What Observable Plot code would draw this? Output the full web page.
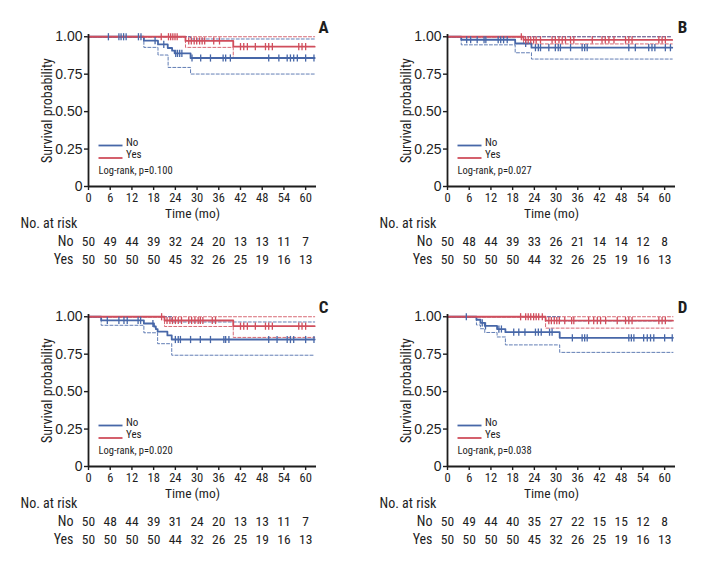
<!DOCTYPE html>
<html><head><meta charset="utf-8">
<script src="https://cdn.jsdelivr.net/npm/d3@7"></script>
<script src="https://cdn.jsdelivr.net/npm/@observablehq/plot@0.6"></script>
<style>
body{margin:0;background:#fff;}
#fig{position:relative;width:702px;height:562px;overflow:hidden;background:#fff;}
#fig svg{position:absolute;}
</style></head><body><div id="fig"></div>
<script>
// ---------- shared ----------
const timeTicks = [0, 6, 12, 18, 24, 30, 36, 42, 48, 54, 60];
const survTicks = [0, 0.25, 0.5, 0.75, 1];
const groups = ["No", "Yes"];
const panelLetters = ["A", "B", "C", "D"];
const pValues = ["0.100", "0.027", "0.020", "0.038"];

// ---------- Panel A ----------
const A_noCurve = [[0,1],[15.3,.974],[19.2,.949],[21.9,.925],[23.1,.907],[23.8,.889],[28.2,.858],[62.5,.858]];
const A_noLo = [[0,1],[15.3,.929],[19.2,.878],[22.0,.795],[28.2,.751],[62.5,.751]];
const A_noHi = [[0,1],[28.2,.985],[62.5,.985]];
const A_yesCurve = [[0,1],[26.8,.972],[40.0,.934],[62.5,.934]];
const A_yesLo = [[0,1],[26.8,.929],[40.0,.856],[62.5,.856]];
const A_yesHi = [[0,1],[62.5,1]];
const A_noCens = [5.5, 8.4, 9.0, 9.7, 10.4, 13.8, 14.5, 18.4, 20.8, 24.1, 24.6, 25.2, 25.8, 28.6, 31.0, 33.7, 37.2, 37.9, 39.2, 49.8, 52.6, 54.9, 55.8, 56.7, 57.7, 60.0, 62.3];
const A_yesCens = [20.1, 22.1, 22.7, 23.3, 23.9, 24.5, 27.7, 28.4, 29.2, 29.9, 30.7, 31.4, 32.1, 34.6, 36.2, 42.0, 42.9, 43.9, 46.1, 48.9, 49.8, 50.8, 58.1, 59.0, 60.0];
const A_noRisk = [50, 49, 44, 39, 32, 24, 20, 13, 13, 11, 7];
const A_yesRisk = [50, 50, 50, 50, 45, 32, 26, 25, 19, 16, 13];

// ---------- Panel B ----------
const B_noCurve = [[0,1],[3.8,.98],[18.7,.955],[23.2,.927],[62.1,.927]];
const B_noLo = [[0,1],[3.8,.946],[18.7,.893],[23.2,.851],[62.1,.851]];
const B_noHi = [[0,1],[62.1,1]];
const B_yesCurve = [[0,1],[21.0,.979],[62.1,.979]];
const B_yesLo = [[0,1],[21.0,.952],[62.1,.952]];
const B_yesHi = [[0,1],[62.1,1]];
const B_noCens = [5.3, 6.4, 8.2, 10.1, 10.6, 14.0, 14.7, 15.5, 16.5, 21.6, 24.3, 25.1, 25.7, 28.0, 29.8, 30.6, 31.2, 34.0, 37.2, 37.9, 38.6, 50.1, 51.9, 55.6, 56.5, 57.3, 60.2, 61.6];
const B_yesCens = [20.4, 21.6, 22.3, 23.0, 23.8, 24.5, 25.7, 28.9, 29.8, 30.8, 31.7, 32.6, 34.0, 34.9, 40.0, 42.7, 43.6, 44.6, 46.0, 49.2, 50.1, 51.0, 58.4, 59.3, 60.2];
const B_noRisk = [50, 48, 44, 39, 33, 26, 21, 14, 14, 12, 8];
const B_yesRisk = [50, 50, 50, 50, 44, 32, 26, 25, 19, 16, 13];

// ---------- Panel C ----------
const C_noCurve = [[0,1],[3.5,.976],[15.3,.955],[18.1,.935],[18.6,.918],[19.1,.9],[21.8,.875],[23.0,.848],[62.5,.848]];
const C_noLo = [[0,1],[3.5,.943],[15.3,.893],[19.1,.82],[23.0,.743],[62.5,.743]];
const C_noHi = [[0,1],[23.0,.965],[62.5,.965]];
const C_yesCurve = [[0,1],[21.0,.975],[40.0,.937],[62.5,.937]];
const C_yesLo = [[0,1],[21.0,.935],[40.0,.862],[62.5,.862]];
const C_yesHi = [[0,1],[62.5,1]];
const C_noCens = [5.2, 8.4, 9.8, 10.7, 13.7, 14.4, 17.8, 24.0, 24.8, 25.4, 28.2, 30.9, 33.7, 37.4, 37.9, 38.8, 49.8, 52.1, 54.9, 55.8, 56.7, 60.0, 62.3];
const C_yesCens = [20.2, 21.7, 22.5, 23.2, 24.0, 24.8, 25.7, 27.7, 28.5, 29.4, 30.3, 30.9, 31.6, 34.2, 35.1, 42.0, 42.9, 43.9, 46.1, 48.9, 49.8, 50.8, 58.1, 59.0, 60.0];
const C_noRisk = [50, 48, 44, 39, 31, 24, 20, 13, 13, 11, 7];
const C_yesRisk = [50, 50, 50, 50, 44, 32, 26, 25, 19, 16, 13];

// ---------- Panel D ----------
const D_noCurve = [[0,1],[8.0,.98],[9.1,.959],[10.3,.939],[13.7,.918],[16.0,.897],[31.0,.859],[62.3,.859]];
const D_noLo = [[0,1],[8.0,.945],[9.1,.92],[10.3,.895],[13.7,.865],[16.0,.812],[31.0,.762],[62.3,.762]];
const D_noHi = [[0,1],[31.0,.972],[62.3,.972]];
const D_yesCurve = [[0,1],[27.1,.974],[62.3,.974]];
const D_yesLo = [[0,1],[27.1,.924],[62.3,.924]];
const D_yesHi = [[0,1],[62.3,1]];
const D_noCens = [5.2, 9.6, 10.5, 14.2, 14.9, 18.3, 19.7, 21.4, 24.3, 25.1, 25.9, 28.2, 28.9, 34.5, 37.2, 37.9, 38.6, 50.1, 50.8, 51.5, 54.2, 55.2, 56.1, 57.0, 60.0, 62.1];
const D_yesCens = [20.2, 21.6, 22.3, 23.0, 23.8, 24.5, 25.2, 26.2, 28.0, 28.7, 29.5, 30.2, 30.9, 32.4, 34.3, 34.9, 39.0, 40.4, 41.4, 42.3, 43.7, 46.9, 49.2, 50.1, 51.0, 58.4, 59.3, 60.2];
const D_noRisk = [50, 49, 44, 40, 35, 27, 22, 15, 15, 12, 8];
const D_yesRisk = [50, 50, 50, 50, 45, 32, 26, 25, 19, 16, 13];

// ---------- styling ----------
const FONT = '"Liberation Sans Narrow","Arial Narrow","Roboto Condensed","DejaVu Sans Condensed",sans-serif';
const WIDE = '"Liberation Sans",Arial,sans-serif';
const BLUE = "#4767a8";
const RED = "#d04e5c";
const INK = "#1e1e1e";

const vline = {draw(ctx, size) { const r = Math.sqrt(size / Math.PI); ctx.moveTo(0, -r); ctx.lineTo(0, r); }};
const hline = {draw(ctx, size) { const r = Math.sqrt(size / Math.PI); ctx.moveTo(-r, 0); ctx.lineTo(r, 0); }};

function survAt(curve, t) {
  let s = curve[0][1];
  for (const [ti, si] of curve) if (ti <= t) s = si;
  return s;
}

function panel(p) {
  const stepLine = (data, color, dashed) => Plot.line(data, {
    x: d => d[0], y: d => d[1], curve: "step-after", stroke: color,
    strokeWidth: dashed ? 1 : 1.8, strokeDasharray: dashed ? "3,2" : null,
    strokeOpacity: dashed ? 0.85 : 1
  });
  const cens = (times, curve, color) => Plot.dot(times, {
    x: d => d, y: d => survAt(curve, d), symbol: vline, r: 3.6,
    stroke: color, strokeWidth: 1.3, fill: "none"
  });
  const riskRow = (vals, dy) => Plot.text(vals, {
    x: (d, i) => timeTicks[i], text: d => String(d), frameAnchor: "bottom",
    dy, fontSize: 13.5, fill: INK
  });
  const label = (txt, opts) => Plot.text([txt], {text: d => d, fill: INK, fontSize: 14, ...opts});

  const chart = Plot.plot({
    width: 351, height: 280,
    marginLeft: 88, marginRight: 35, marginTop: 34, marginBottom: 94,
    x: {domain: [0, 63]},
    y: {domain: [0, 1.015]},
    style: {fontFamily: FONT, fontSize: "12px", color: INK, background: "transparent", overflow: "visible"},
    marks: [
      Plot.axisY({ticks: survTicks, tickFormat: d => d === 0 ? "0" : d.toFixed(2), tickSize: 4, tickPadding: 2,
                  label: null, fontSize: 14, fontFamily: WIDE, stroke: INK, strokeWidth: 1.4, fill: INK}),
      Plot.axisX({ticks: timeTicks, tickSize: 4, tickPadding: 3, label: null, fontSize: 12.5,
                  stroke: INK, strokeWidth: 1.4, fill: INK}),
      // confidence bands
      stepLine(p.yesLo, RED, true), stepLine(p.yesHi, RED, true),
      stepLine(p.noLo, BLUE, true), stepLine(p.noHi, BLUE, true),
      // survival curves
      stepLine(p.noCurve, BLUE, false),
      stepLine(p.yesCurve, RED, false),
      cens(p.noCens, p.noCurve, BLUE),
      cens(p.yesCens, p.yesCurve, RED),
      // axis lines
      Plot.ruleY([0], {stroke: INK, strokeWidth: 1.8}),
      Plot.ruleX([0], {stroke: INK, strokeWidth: 1.8}),
      // axis titles
      label("Survival probability", {frameAnchor: "left", textAnchor: "middle", rotate: -90, dx: -41}),
      label("Time (mo)", {frameAnchor: "bottom", dx: -10, dy: 31.5, fontSize: 13.5}),
      // panel letter
      label(p.letter, {frameAnchor: "top-right", textAnchor: "middle", dx: 7, dy: -14, fontSize: 17, fontWeight: "bold"}),
      // legend
      Plot.dot([0], {frameAnchor: "bottom-left", dx: 22, dy: -41, symbol: hline, r: 12, stroke: BLUE, strokeWidth: 1.8, fill: "none"}),
      Plot.dot([0], {frameAnchor: "bottom-left", dx: 22, dy: -28.5, symbol: hline, r: 12, stroke: RED, strokeWidth: 1.8, fill: "none"}),
      label(groups[0], {frameAnchor: "bottom-left", dx: 37.5, dy: -41, textAnchor: "start", fontSize: 11}),
      label(groups[1], {frameAnchor: "bottom-left", dx: 37.5, dy: -28.5, textAnchor: "start", fontSize: 11}),
      label("Log-rank, p=" + p.pval, {frameAnchor: "bottom-left", dx: 10, dy: -13, textAnchor: "start", fontSize: 10.5}),
      // at-risk table
      label("No. at risk", {frameAnchor: "bottom-left", dx: -68, dy: 41, textAnchor: "start"}),
      label(groups[0], {frameAnchor: "bottom-left", dx: -15, dy: 59, textAnchor: "end"}),
      label(groups[1], {frameAnchor: "bottom-left", dx: -15, dy: 77.5, textAnchor: "end"}),
      riskRow(p.noRisk, 59),
      riskRow(p.yesRisk, 77.5)
    ]
  });
  chart.style.left = p.left + "px";
  chart.style.top = p.top + "px";
  document.getElementById("fig").appendChild(chart);
}

panel({letter: panelLetters[0], pval: pValues[0], left: 0, top: 0,
  noCurve: A_noCurve, noLo: A_noLo, noHi: A_noHi, yesCurve: A_yesCurve, yesLo: A_yesLo, yesHi: A_yesHi,
  noCens: A_noCens, yesCens: A_yesCens, noRisk: A_noRisk, yesRisk: A_yesRisk});
panel({letter: panelLetters[1], pval: pValues[1], left: 359, top: 0,
  noCurve: B_noCurve, noLo: B_noLo, noHi: B_noHi, yesCurve: B_yesCurve, yesLo: B_yesLo, yesHi: B_yesHi,
  noCens: B_noCens, yesCens: B_yesCens, noRisk: B_noRisk, yesRisk: B_yesRisk});
panel({letter: panelLetters[2], pval: pValues[2], left: 0, top: 280,
  noCurve: C_noCurve, noLo: C_noLo, noHi: C_noHi, yesCurve: C_yesCurve, yesLo: C_yesLo, yesHi: C_yesHi,
  noCens: C_noCens, yesCens: C_yesCens, noRisk: C_noRisk, yesRisk: C_yesRisk});
panel({letter: panelLetters[3], pval: pValues[3], left: 359, top: 280,
  noCurve: D_noCurve, noLo: D_noLo, noHi: D_noHi, yesCurve: D_yesCurve, yesLo: D_yesLo, yesHi: D_yesHi,
  noCens: D_noCens, yesCens: D_yesCens, noRisk: D_noRisk, yesRisk: D_yesRisk});
</script>
</body></html>
